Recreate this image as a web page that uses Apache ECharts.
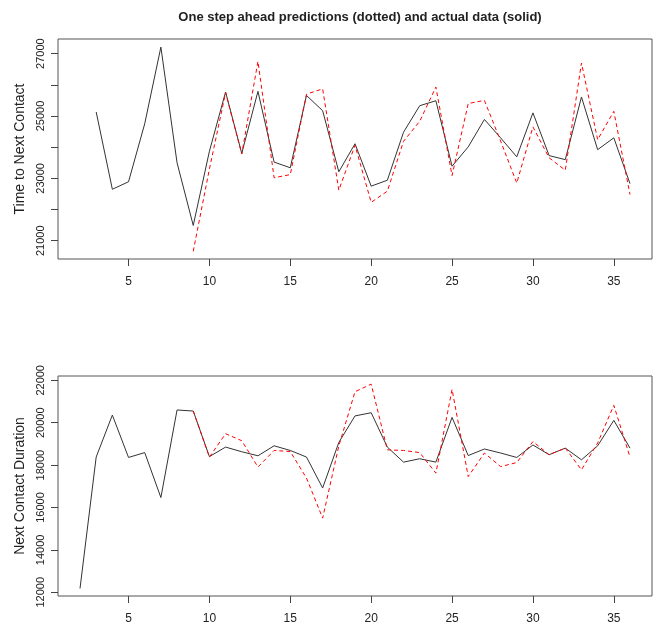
<!DOCTYPE html>
<html>
<head>
<meta charset="utf-8">
<script src="https://cdn.jsdelivr.net/npm/echarts@6/dist/echarts.min.js"></script>
<style>
  html, body { margin: 0; padding: 0; background: #fff; }
  #chart { width: 657px; height: 627px; }
</style>
</head>
<body>
<div id="chart"></div>
<script>
// time index (x axis)
const periods = [2, 3, 4, 5, 6, 7, 8, 9, 10, 11, 12, 13, 14, 15, 16, 17, 18, 19, 20,
  21, 22, 23, 24, 25, 26, 27, 28, 29, 30, 31, 32, 33, 34, 35, 36]

// top panel: time to next contact
const gapActual = [null, 25130, 22650, 22890, 24750, 27210, 23500, 21490, 23870, 25770,
  23800, 25790, 23520, 23340, 25660, 25170, 23210, 24110, 22750, 22940, 24480, 25330,
  25490, 23390, 24010, 24890, 24300, 23690, 25100, 23730, 23600, 25610, 23920, 24300, 22830]
const gapPred = [null, null, null, null, null, null, null, 20660, 23300, 25750,
  23780, 26750, 23020, 23120, 25700, 25870, 22620, 24060, 22230, 22590, 24190, 24830,
  25930, 23090, 25400, 25500, 24200, 22850, 24650, 23660, 23260, 26700, 24240, 25150, 22480]

// bottom panel: next contact duration
const durActual = [12180, 18380, 20360, 18360, 18590, 16470, 20600, 20550, 18400, 18850,
  18630, 18440, 18910, 18690, 18380, 16920, 19070, 20320, 20470, 18850, 18140, 18300,
  18140, 20250, 18450, 18760, 18570, 18360, 18950, 18490, 18800, 18250, 18910, 20110, 18800]
const durPred = [null, null, null, null, null, null, null, 20550, 18380, 19480,
  19150, 17910, 18690, 18640, 17390, 15500, 18900, 21460, 21820, 18720, 18690, 18590,
  17620, 21570, 17460, 18570, 17930, 18120, 19110, 18490, 18800, 17780, 19040, 20820, 18380]

const xTicks = [5, 10, 15, 20, 25, 30, 35]
const gapTicks = [21000, 22000, 23000, 24000, 25000, 26000, 27000]
const gapLabels = [21000, 23000, 25000, 27000]
const durTicks = [12000, 14000, 16000, 18000, 20000, 22000]

const pairs = (ys) => periods.map((x, i) => [x, ys[i]])

const textColor = '#222'
const font = 'Liberation Sans, Arial, sans-serif'

function xAxisFor(gridIndex) {
  return {
    type: 'value',
    gridIndex,
    min: 0.64,
    max: 37.36,
    splitLine: { show: false },
    axisLine: { show: false },
    axisTick: { show: true, customValues: xTicks, length: 7, lineStyle: { color: '#444' } },
    axisLabel: { customValues: xTicks, color: textColor, fontSize: 12, fontFamily: font, margin: 17 },
  }
}

function yAxisFor(gridIndex, name, min, max, ticks, labels) {
  return {
    type: 'value',
    gridIndex,
    min,
    max,
    name,
    nameLocation: 'middle',
    nameRotate: 90,
    nameGap: 28,
    nameTextStyle: { color: textColor, fontSize: 14, fontFamily: font },
    splitLine: { show: false },
    axisLine: { show: false },
    axisTick: { show: true, customValues: ticks, length: 7, lineStyle: { color: '#444' } },
    axisLabel: {
      customValues: labels,
      rotate: 90,
      color: textColor,
      fontSize: 11,
      fontFamily: font,
      margin: 12,
      formatter: (v) => String(v),
    },
  }
}

const solid = { color: '#333', width: 1 }
const dashed = { color: '#ff0000', width: 1, type: [4, 3] }

const chart = echarts.init(document.getElementById('chart'))
chart.setOption({
  animation: false,
  title: {
    text: 'One step ahead predictions (dotted) and actual data (solid)',
    left: 355,
    textAlign: 'center',
    top: 6,
    textStyle: { fontSize: 13, fontWeight: 'bold', color: textColor, fontFamily: font },
  },
  grid: [
    { left: 58, top: 39, width: 594, height: 220, show: true, borderColor: '#555', borderWidth: 1 },
    { left: 58, top: 376, width: 594, height: 220, show: true, borderColor: '#555', borderWidth: 1 },
  ],
  xAxis: [xAxisFor(0), xAxisFor(1)],
  yAxis: [
    yAxisFor(0, 'Time to Next Contact', 20413, 27470, gapTicks, gapLabels),
    yAxisFor(1, 'Next Contact Duration', 11825, 22203, durTicks, durTicks),
  ],
  series: [
    { type: 'line', xAxisIndex: 0, yAxisIndex: 0, data: pairs(gapActual), showSymbol: false, lineStyle: solid },
    { type: 'line', xAxisIndex: 0, yAxisIndex: 0, data: pairs(gapPred), showSymbol: false, lineStyle: dashed },
    { type: 'line', xAxisIndex: 1, yAxisIndex: 1, data: pairs(durActual), showSymbol: false, lineStyle: solid },
    { type: 'line', xAxisIndex: 1, yAxisIndex: 1, data: pairs(durPred), showSymbol: false, lineStyle: dashed },
  ],
})
</script>
</body>
</html>
